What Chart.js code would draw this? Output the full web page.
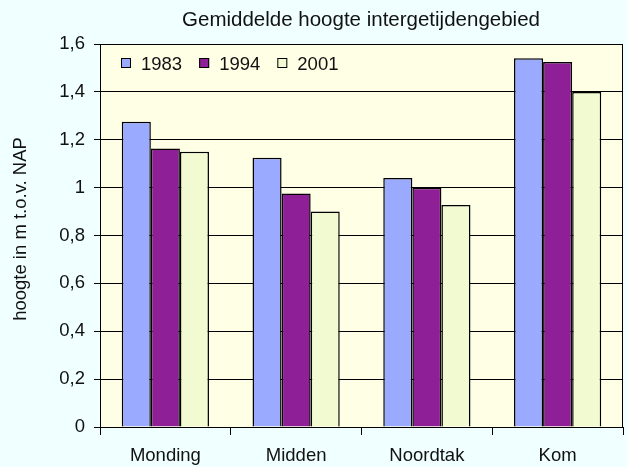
<!DOCTYPE html>
<html>
<head>
<meta charset="utf-8">
<script src="https://cdn.jsdelivr.net/npm/chart.js@4/dist/chart.umd.min.js"></script>
<style>
  html, body { margin: 0; padding: 0; background: #F0FFFF; }
  #wrap { width: 627px; height: 467px; position: relative; }
</style>
</head>
<body>
<div id="wrap"><canvas id="c" width="627" height="467"></canvas></div>
<script>
const chartTitle = 'Gemiddelde hoogte intergetijdengebied';
const yAxisTitle = 'hoogte in m t.o.v. NAP';
const categories = ['Monding', 'Midden', 'Noordtak', 'Kom'];
const seriesNames = ['1983', '1994', '2001'];
const values1983 = [1.275, 1.125, 1.04, 1.54];
const values1994 = [1.163, 0.975, 1.0, 1.525];
const values2001 = [1.15, 0.90, 0.927, 1.40];
const seriesColors = ['#99AAFF', '#8E1F96', '#F2FAD2'];
const yMin = 0, yMax = 1.6, yStep = 0.2;

const FONT = '"Liberation Sans", Arial, sans-serif';
const TEXT = '#111';

const decor = {
  id: 'decor',
  beforeDraw(chart) {
    const { ctx, chartArea: a } = chart;
    ctx.save();
    ctx.fillStyle = '#FFFFE6';
    ctx.fillRect(a.left, a.top, a.right - a.left, a.bottom - a.top);
    ctx.restore();
  },
  afterDraw(chart) {
    const { ctx, chartArea: a } = chart;
    ctx.save();
    ctx.strokeStyle = '#000';
    ctx.lineWidth = 1;
    ctx.strokeRect(a.left + 0.5, a.top + 0.5, a.right - a.left - 1, a.bottom - a.top);
    ctx.fillStyle = TEXT;
    ctx.font = '20.5px ' + FONT;
    ctx.textAlign = 'center';
    ctx.textBaseline = 'alphabetic';
    ctx.fillText(chartTitle, 361, 26);
    ctx.save();
    ctx.translate(26, 229);
    ctx.rotate(-Math.PI / 2);
    ctx.font = '18.5px ' + FONT;
    ctx.textAlign = 'center';
    ctx.fillText(yAxisTitle, 0, 0);
    ctx.restore();
    ctx.font = '18.5px ' + FONT;
    ctx.textAlign = 'left';
    let x = a.left + 21;
    chart.data.datasets.forEach(ds => {
      ctx.fillStyle = ds.backgroundColor;
      ctx.fillRect(x, 58, 10, 10);
      ctx.strokeStyle = '#000';
      ctx.strokeRect(x + 0.5, 58.5, 9, 9);
      ctx.fillStyle = TEXT;
      ctx.fillText(ds.label, x + 20, 70);
      x += 20 + ctx.measureText(ds.label).width + 17;
    });
    ctx.restore();
  }
};

const fmt = v => String(Number(Number(v).toFixed(1))).replace('.', ',');

new Chart(document.getElementById('c'), {
  type: 'bar',
  data: {
    labels: categories,
    datasets: [
      { label: seriesNames[0], data: values1983, backgroundColor: seriesColors[0] },
      { label: seriesNames[1], data: values1994, backgroundColor: seriesColors[1] },
      { label: seriesNames[2], data: values2001, backgroundColor: seriesColors[2] }
    ].map(d => Object.assign(d, { borderColor: '#000', borderWidth: 1.5, categoryPercentage: 0.667, barPercentage: 1.0 }))
  },
  options: {
    responsive: false,
    animation: false,
    devicePixelRatio: 1,
    layout: { padding: { top: 44, right: 4, bottom: 0, left: 0 } },
    plugins: { legend: { display: false }, title: { display: false }, tooltip: { enabled: false } },
    scales: {
      x: {
        grid: { display: true, drawOnChartArea: false, offset: true, color: '#000', tickLength: 8 },
        border: { color: '#000' },
        ticks: { color: TEXT, font: { family: FONT, size: 18.5 }, padding: 10, maxRotation: 0 },
        afterFit(s) { s.height = 40; }
      },
      y: {
        min: yMin, max: yMax,
        grid: { color: '#000', tickLength: 6 },
        border: { color: '#000' },
        ticks: { stepSize: yStep, color: TEXT, font: { family: FONT, size: 18.5 }, padding: 9, callback: v => fmt(v) },
        afterFit(s) { s.width = 100; }
      }
    }
  },
  plugins: [decor]
});
</script>
</body>
</html>
